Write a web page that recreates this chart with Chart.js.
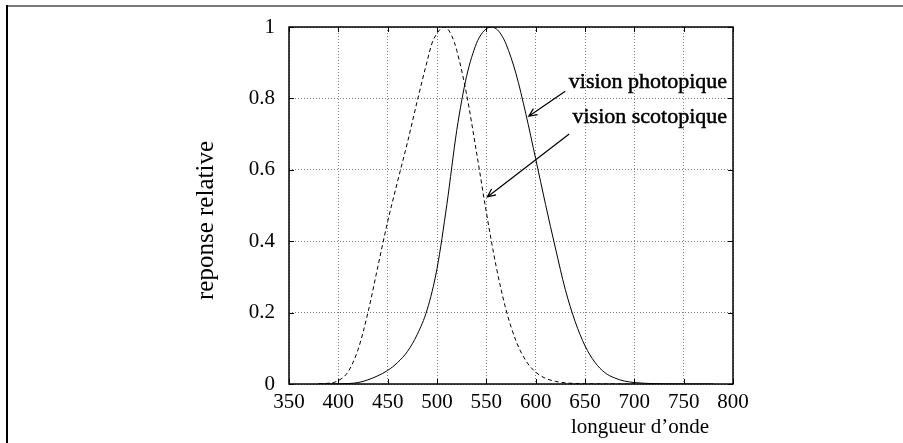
<!DOCTYPE html>
<html>
<head>
<meta charset="utf-8">
<script src="https://cdn.jsdelivr.net/npm/chart.js@4.4.1/dist/chart.umd.min.js"></script>
<style>
  html, body { margin: 0; padding: 0; background: #fff; }
  #wrap { width: 903px; height: 443px; }
</style>
</head>
<body>
<div id="wrap"><canvas id="myChart" width="903" height="443"></canvas></div>
<script>
// values (wavelength in nm, relative response)
const photopicNm = [380, 390, 400, 410, 420, 430, 440, 450, 460, 470, 480, 490, 500, 510, 520, 530, 540,
  545, 550, 555, 560, 565, 570,
  580, 590, 600, 610, 620, 630, 640, 650, 660, 670, 680, 690, 700, 710, 720, 730, 740, 750, 760, 770, 780];
const photopicValues = [0.0000, 0.0001, 0.0004, 0.0012, 0.0040, 0.0116, 0.023, 0.038, 0.060, 0.091, 0.139, 0.208, 0.323, 0.503, 0.710, 0.862, 0.954,
  0.980, 0.995, 1.000, 0.995, 0.979, 0.952,
  0.870, 0.757, 0.631, 0.503, 0.381, 0.265, 0.175, 0.107, 0.061, 0.032, 0.017, 0.0082, 0.0041, 0.0021, 0.00105, 0.00052, 0.00025, 0.00012, 0.00006, 0.00003, 0.000015];

const scotopicNm = [380, 390, 400, 410, 420, 430, 440, 450, 460, 470, 480, 490,
  495, 500, 505, 507, 510, 515, 520,
  530, 540, 550, 560, 570, 580, 590, 600, 610, 620, 630, 640, 650, 660, 670, 680, 690, 700];
const scotopicValues = [0.0006, 0.0022, 0.0093, 0.0348, 0.0966, 0.1998, 0.3281, 0.455, 0.567, 0.676, 0.793, 0.904,
  0.955, 0.982, 0.998, 1.000, 0.997, 0.975, 0.935,
  0.811, 0.650, 0.481, 0.3288, 0.2076, 0.1212, 0.0655, 0.0332, 0.0159, 0.0074, 0.0033, 0.0015, 0.0007, 0.0003, 0.0001, 0.0001, 0.0000, 0.0000];

const xMin = 350, xMax = 800, xStep = 50;
const yMin = 0, yMax = 1, yStep = 0.2;

const xTitle = "longueur d\u2019onde";
const yTitle = "reponse relative";

// labels and arrows, in data coordinates
const noteTexts = ["vision photopique", "vision scotopique"];
const noteX = [794, 794];
const noteY = [0.829, 0.731];
const arrowFrom = [[630, 0.82], [634, 0.70]];
const arrowTo = [[593, 0.75], [551, 0.524]];

const serif = "'Liberation Serif', 'Times New Roman', serif";

function toPoints(xs, ys) {
  return xs.map((x, i) => ({ x: x, y: ys[i] }));
}

function arrow(ctx, x1, y1, x2, y2) {
  const a = Math.atan2(y2 - y1, x2 - x1);
  const len = 9, spread = 0.42;
  ctx.beginPath();
  ctx.moveTo(x1, y1);
  ctx.lineTo(x2, y2);
  ctx.moveTo(x2 - len * Math.cos(a - spread), y2 - len * Math.sin(a - spread));
  ctx.lineTo(x2, y2);
  ctx.lineTo(x2 - len * Math.cos(a + spread), y2 - len * Math.sin(a + spread));
  ctx.stroke();
}

const gnuplotLook = {
  id: "gnuplotLook",
  beforeDraw(chart) {
    const ctx = chart.ctx;
    ctx.save();
    ctx.fillStyle = "#fff";
    ctx.fillRect(0, 0, chart.width, chart.height);
    // outer frame: grey top edge, black left edge
    ctx.fillStyle = "#7a7a7a";
    ctx.fillRect(7, 5, chart.width - 7, 2);
    ctx.fillStyle = "#000";
    ctx.fillRect(6, 5, 2, chart.height - 5);
    ctx.restore();
  },
  afterDatasetsDraw(chart) {
    const ctx = chart.ctx;
    const { left, right, top, bottom } = chart.chartArea;
    const xs = chart.scales.x, ys = chart.scales.y;
    ctx.save();
    ctx.strokeStyle = "#000";
    ctx.lineWidth = 1.5;
    ctx.strokeRect(left, top, right - left, bottom - top);

    // inward ticks on all four sides
    ctx.lineWidth = 1;
    const tl = 5;
    ctx.beginPath();
    xs.ticks.forEach(t => {
      const px = Math.round(xs.getPixelForValue(t.value)) + 0.5;
      ctx.moveTo(px, bottom); ctx.lineTo(px, bottom - tl);
      ctx.moveTo(px, top); ctx.lineTo(px, top + tl);
    });
    ys.ticks.forEach(t => {
      const py = Math.round(ys.getPixelForValue(t.value)) + 0.5;
      ctx.moveTo(left, py); ctx.lineTo(left + tl, py);
      ctx.moveTo(right, py); ctx.lineTo(right - tl, py);
    });
    ctx.stroke();

    // annotations
    ctx.fillStyle = "#000";
    ctx.font = "22px " + serif;
    ctx.textAlign = "right";
    ctx.textBaseline = "alphabetic";
    ctx.lineWidth = 0.5;
    noteTexts.forEach((t, i) => {
      const px = xs.getPixelForValue(noteX[i]), py = ys.getPixelForValue(noteY[i]);
      ctx.fillText(t, px, py);
      ctx.strokeText(t, px, py);
    });
    ctx.lineWidth = 1.2;
    arrowFrom.forEach((f, i) => {
      arrow(ctx, xs.getPixelForValue(f[0]), ys.getPixelForValue(f[1]),
        xs.getPixelForValue(arrowTo[i][0]), ys.getPixelForValue(arrowTo[i][1]));
    });

    // axis titles
    ctx.font = "21px " + serif;
    ctx.textAlign = "center";
    ctx.textBaseline = "alphabetic";
    ctx.fillText(xTitle, right - 93, bottom + 49);
    ctx.save();
    ctx.translate(left - 76, (top + bottom) / 2 + 15);
    ctx.rotate(-Math.PI / 2);
    ctx.font = "25px " + serif;
    ctx.fillText(yTitle, 0, 0);
    ctx.restore();
    ctx.restore();
  }
};

new Chart("myChart", {
  type: "line",
  data: {
    datasets: [
      {
        label: "vision photopique",
        data: toPoints(photopicNm, photopicValues),
        borderColor: "#000",
        borderWidth: 1,
        pointRadius: 0,
        cubicInterpolationMode: "monotone",
      },
      {
        label: "vision scotopique",
        data: toPoints(scotopicNm, scotopicValues),
        borderColor: "#000",
        borderWidth: 1,
        borderDash: [4, 3],
        pointRadius: 0,
        cubicInterpolationMode: "monotone",
      },
    ],
  },
  options: {
    responsive: false,
    animation: false,
    devicePixelRatio: 1,
    layout: { padding: { top: 27, right: 170, left: 0, bottom: 0 } },
    plugins: {
      legend: { display: false },
      tooltip: { enabled: false },
    },
    scales: {
      x: {
        type: "linear",
        min: xMin,
        max: xMax,
        afterFit: (scale) => { scale.height = 59; },
        ticks: {
          stepSize: xStep,
          color: "#000",
          padding: 6,
          maxRotation: 0,
          font: { family: serif, size: 21 },
        },
        grid: { color: "#808080", lineWidth: 1, drawTicks: false },
        border: { display: false, dash: [1, 2] },
      },
      y: {
        type: "linear",
        min: yMin,
        max: yMax,
        afterFit: (scale) => { scale.width = 289; },
        ticks: {
          stepSize: yStep,
          color: "#000",
          padding: 14,
          font: { family: serif, size: 21 },
          callback: (v) => String(Math.round(v * 10) / 10),
        },
        grid: { color: "#808080", lineWidth: 1, drawTicks: false },
        border: { display: false, dash: [1, 2] },
      },
    },
  },
  plugins: [gnuplotLook],
});
</script>
</body>
</html>
